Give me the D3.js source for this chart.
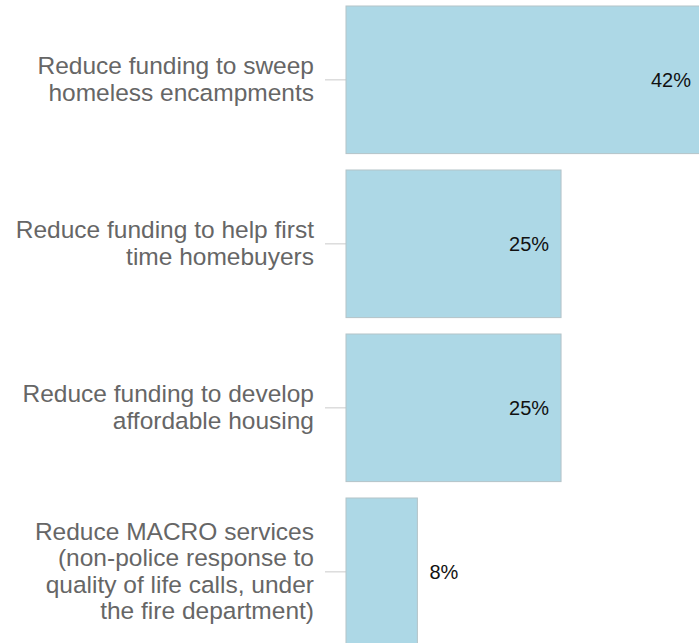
<!DOCTYPE html>
<html>
<head>
<meta charset="utf-8">
<script src="https://cdn.jsdelivr.net/npm/d3@7"></script>
<style>
  body { margin: 0; background: #fff; }
  svg { display: block; font-family: "Liberation Sans", Arial, Helvetica, sans-serif; }
</style>
</head>
<body>
<svg id="chart" width="699" height="643"></svg>
<script>
// categories + values (percent of respondents)
let categories = [
    "Reduce funding to sweep homeless encampments",
    "Reduce funding to help first time homebuyers",
    "Reduce funding to develop affordable housing",
    "Reduce MACRO services (non-police response to quality of life calls, under the fire department)"
];
let values = [42, 25.3, 25.3, 8.4];
let valueLabels = ["42%", "25%", "25%", "8%"];

let data = categories.map(function(c, i){ return {cat: c, val: values[i], label: valueLabels[i]}; });

let chart = d3.select("#chart");
let marginLeft = 346;
let marginTop = 6;

let g = chart.append("g")
            .attr("transform", "translate(" + marginLeft + "," + 0 + ")");

// scales
let x = d3.scaleLinear()
            .range([0, 357])
            .domain([0, 42]);

let y = d3.scaleBand()
            .range([marginTop, marginTop + 639.6])
            .domain(categories)
            .paddingInner(0.1)
            .paddingOuter(0);

// left axis (category labels)
let yAxis = g.append("g")
    .call(d3.axisLeft(y).tickSize(21).tickPadding(11));

yAxis.select(".domain").remove();
yAxis.selectAll(".tick line")
    .attr("stroke", "#dcdcdc")
    .attr("stroke-width", 1.5);
yAxis.selectAll(".tick text")
    .attr("fill", "#666")
    .attr("font-size", "24.5px")
    .call(wrap, 305);

// bars
g.selectAll(".bar")
    .data(data)
    .enter()
    .append("rect")
        .attr("class", "bar")
        .attr("x", 0)
        .attr("y", function(d){ return y(d.cat); })
        .attr("width", function(d){ return x(d.val); })
        .attr("height", y.bandwidth())
        .style("fill", "#add8e6")
        .style("stroke", "#b4c4c8")
        .style("stroke-width", 1);

// value labels - inside the bar if there is room, otherwise just outside
g.selectAll(".val")
    .data(data)
    .enter()
    .append("text")
        .attr("class", "val")
        .attr("x", function(d){ return x(d.val) > 100 ? x(d.val) - 12 : x(d.val) + 12; })
        .attr("y", function(d){ return y(d.cat) + y.bandwidth() / 2; })
        .attr("dy", "0.35em")
        .attr("text-anchor", function(d){ return x(d.val) > 100 ? "end" : "start"; })
        .attr("font-size", "20px")
        .attr("fill", "#111")
        .text(function(d){ return d.label; });

// word wrap for the long category names, centred on the tick
function wrap(texts, width) {
    texts.each(function() {
        let text = d3.select(this);
        let words = text.text().split(/\s+/);
        let xPos = text.attr("x");
        let lineHeight = 1.08;
        text.text(null);
        let lines = [];
        let line = [];
        let tspan = text.append("tspan");
        words.forEach(function(w){
            line.push(w);
            tspan.text(line.join(" "));
            if (tspan.node().getComputedTextLength() > width && line.length > 1) {
                line.pop();
                lines.push(line.join(" "));
                line = [w];
                tspan.text(w);
            }
        });
        lines.push(line.join(" "));
        text.text(null);
        let startDy = -((lines.length - 1) / 2) * lineHeight + 0.32;
        lines.forEach(function(l, i){
            text.append("tspan")
                .attr("x", xPos)
                .attr("dy", (i === 0 ? startDy : lineHeight) + "em")
                .text(l);
        });
    });
}
</script>
</body>
</html>
